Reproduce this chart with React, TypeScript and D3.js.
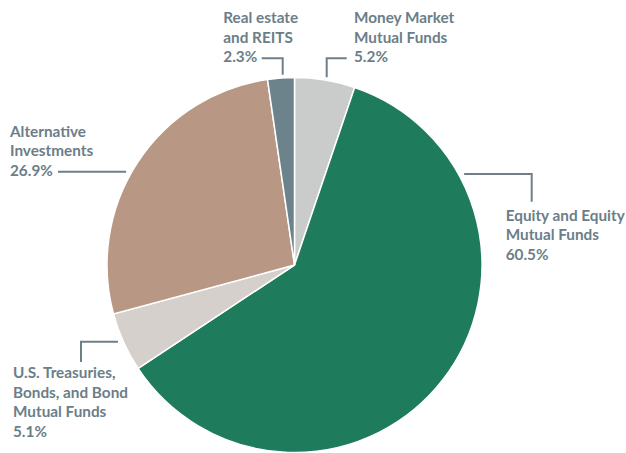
import React from 'react';
import * as d3 from 'd3';

// chart data
const categories = [
  'Money Market Mutual Funds',
  'Equity and Equity Mutual Funds',
  'U.S. Treasuries, Bonds, and Bond Mutual Funds',
  'Alternative Investments',
  'Real estate and REITS',
];
const shares = [5.2, 60.5, 5.1, 26.9, 2.3];
const labelLines = [
  ['Money Market', 'Mutual Funds', '5.2%'],
  ['Equity and Equity', 'Mutual Funds', '60.5%'],
  ['U.S. Treasuries,', 'Bonds, and Bond', 'Mutual Funds', '5.1%'],
  ['Alternative', 'Investments', '26.9%'],
  ['Real estate', 'and REITS', '2.3%'],
];
const colors = ['#c9cccb', '#1e7b5c', '#d5d0cb', '#b89884', '#6d838c'];

const W = 626;
const H = 453;
const cx = 294.5;
const cy = 265;
const R = 187.5;
const textColor = '#6b7e88';

// label layout: kind 'v' = leader goes up from pie then sideways, 'h' = sideways from pie then maybe down
type Lay = {
  kind: 'v' | 'h';
  at: number; // x for 'v', y for 'h'
  elbow: number; // y for 'v', x for 'h'
  end?: number; // x end for 'v'; y end for 'h'
  side: number; // which side of the circle for 'h' (+1 right, -1 left)
  tx: number;
  ty: number;
};
const layout: Lay[] = [
  { kind: 'v', at: 326.7, elbow: 58.3, end: 346.7, side: 1, tx: 354, ty: 23 },
  { kind: 'h', at: 174, elbow: 531.7, end: 201.7, side: 1, tx: 505.7, ty: 220.7 },
  { kind: 'h', at: 341.7, elbow: 81, end: 362, side: -1, tx: 13, ty: 378 },
  { kind: 'h', at: 171.7, elbow: 58, side: -1, tx: 10, ty: 136.7 },
  { kind: 'v', at: 282.7, elbow: 58.3, end: 261.7, side: 1, tx: 223.3, ty: 23 },
];

const lineH = 19.6;

export default function App() {
  const pie = d3
    .pie<number>()
    .sort(null)
    .value((d) => d);
  const arcs = pie(shares);
  const arc = d3.arc<d3.PieArcDatum<number>>().innerRadius(0).outerRadius(R);

  const leader = (l: Lay) => {
    if (l.kind === 'v') {
      const dx = l.at - cx;
      const y0 = cy - Math.sqrt((R + 3) ** 2 - dx * dx);
      return d3.line()([
        [l.at, y0],
        [l.at, l.elbow],
        [l.end!, l.elbow],
      ]);
    }
    const dy = l.at - cy;
    const x0 = cx + l.side * Math.sqrt((R + 5) ** 2 - dy * dy);
    const pts: [number, number][] = [
      [x0, l.at],
      [l.elbow, l.at],
    ];
    if (l.end !== undefined) pts.push([l.elbow, l.end]);
    return d3.line()(pts);
  };

  return (
    <svg width={W} height={H} style={{ position: 'absolute', left: 0, top: 0 }}>
      <rect width={W} height={H} fill="#ffffff" />
      <g transform={`translate(${cx},${cy})`}>
        {arcs.map((a, i) => (
          <path key={categories[i]} d={arc(a) || ''} fill={colors[i]} stroke="#ffffff" strokeWidth={1.5} />
        ))}
      </g>
      {layout.map((l, i) => (
        <path key={'l' + i} d={leader(l) || ''} fill="none" stroke="#6e7f88" strokeWidth={2} />
      ))}
      {layout.map((l, i) => (
        <text
          key={'t' + i}
          x={l.tx}
          y={l.ty}
          fill={textColor}
          fontFamily="Lato, 'Open Sans', sans-serif"
          fontSize={15.3}
          fontWeight={700}
        >
          {labelLines[i].map((s, j) => (
            <tspan key={j} x={l.tx} y={l.ty + j * lineH}>
              {s}
            </tspan>
          ))}
        </text>
      ))}
    </svg>
  );
}
